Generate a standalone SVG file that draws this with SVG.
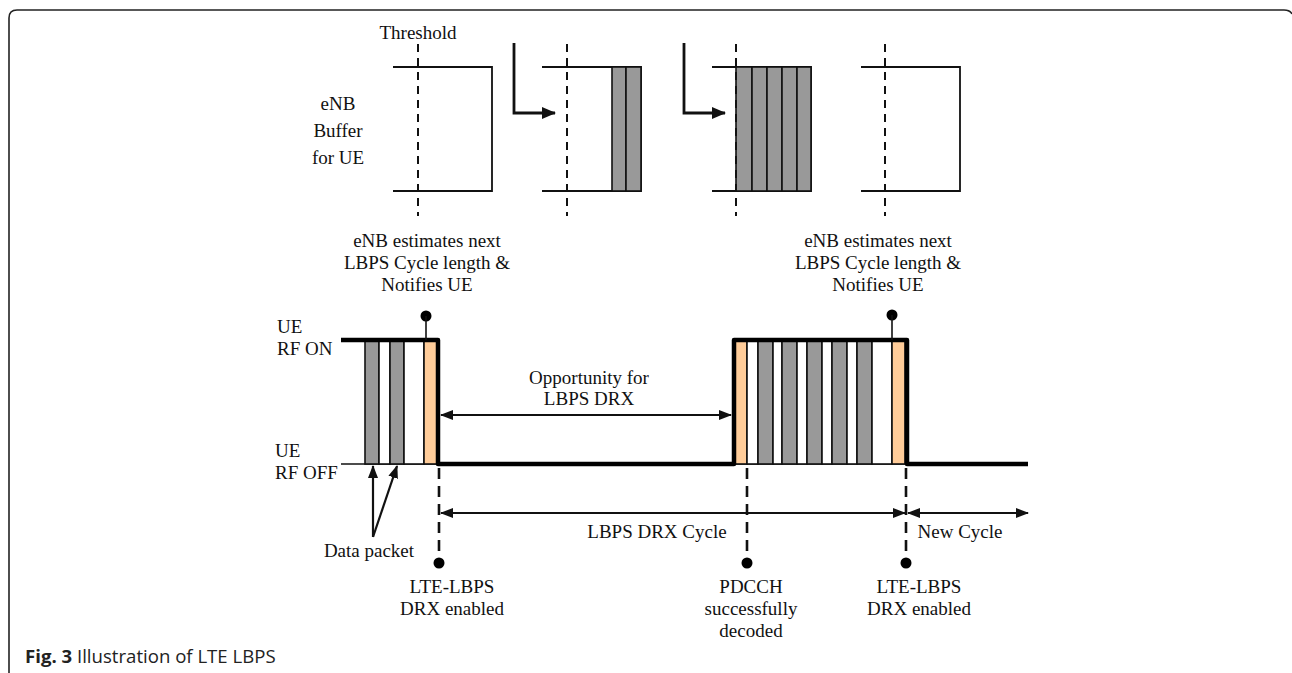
<svg xmlns="http://www.w3.org/2000/svg" width="1292" height="673" viewBox="0 0 1292 673">
<style>
.t{font-family:"Liberation Serif","Times New Roman",serif;font-size:19px;fill:#111}
.c{text-anchor:middle}
.buf{fill:none;stroke:#111;stroke-width:1.8}
.thr{stroke:#111;stroke-width:2;stroke-dasharray:8,6}
.gray{fill:#999999;stroke:#111;stroke-width:1.6}
.wht{fill:#ffffff;stroke:#111;stroke-width:1.6}
.org{fill:#ffcc99;stroke:#111;stroke-width:1.6}
.sig{fill:none;stroke:#000;stroke-width:4.5;stroke-linejoin:round}
.thin{stroke:#111;stroke-width:1.6}
.dash{stroke:#111;stroke-width:2.6;stroke-dasharray:11,7}
.arr{stroke:#111;stroke-width:2.2;fill:none}
.arr2{stroke:#111;stroke-width:2.8;fill:none}
</style>
<defs>
<marker id="ah" markerWidth="13" markerHeight="10" refX="12" refY="5" orient="auto-start-reverse" markerUnits="userSpaceOnUse">
<path d="M0,0 L13,5 L0,10 Z" fill="#111"/>
</marker>
<marker id="ahb" markerWidth="14" markerHeight="12" refX="13" refY="6" orient="auto" markerUnits="userSpaceOnUse">
<path d="M0,0 L14,6 L0,12 Z" fill="#111"/>
</marker>
</defs>

<g id="frame">
<path d="M9,673 V18 Q9,10 17,10 H1284 Q1290,10 1292,14" fill="none" stroke="#222" stroke-width="1.6"/>
</g>

<g id="buffer-label">
<text class="t" x="418" y="39" text-anchor="middle">Threshold</text>
<text class="t c" x="338" y="110">eNB</text>
<text class="t c" x="338" y="137">Buffer</text>
<text class="t c" x="338" y="164">for UE</text>
</g>

<g id="buffer1">
<path class="buf" d="M393,67 H492 V191 H393"/>
<line class="thr" x1="418" y1="44" x2="418" y2="216"/>
</g>

<g id="buffer2">
<path class="buf" d="M542,67 H641 V191 H542"/>
<rect class="gray" x="612" y="67" width="14" height="124"/>
<rect class="gray" x="626" y="67" width="15" height="124"/>
<line class="thr" x1="567" y1="44" x2="567" y2="216"/>
</g>

<g id="buffer3">
<path class="buf" d="M712,67 H811 V191 H712"/>
<rect class="gray" x="736" y="67" width="16" height="124"/>
<rect class="gray" x="752" y="67" width="15" height="124"/>
<rect class="gray" x="767" y="67" width="15" height="124"/>
<rect class="gray" x="782" y="67" width="15" height="124"/>
<rect class="gray" x="797" y="67" width="14" height="124"/>
<line class="thr" x1="736" y1="44" x2="736" y2="216"/>
</g>

<g id="buffer4">
<path class="buf" d="M861,67 H960 V191 H861"/>
<line class="thr" x1="885" y1="44" x2="885" y2="216"/>
</g>

<g id="timeline-labels">
<text class="t" x="277" y="333">UE</text>
<text class="t" x="277" y="355">RF ON</text>
<text class="t" x="275" y="457">UE</text>
<text class="t" x="275" y="479">RF OFF</text>
</g>

<g id="on-period-1">
<line class="thin" x1="341" y1="464" x2="438" y2="464"/>
<rect class="gray" x="365" y="340" width="14" height="124"/>
<rect class="wht" x="379" y="340" width="11" height="124"/>
<rect class="gray" x="390" y="340" width="14" height="124"/>
<rect class="wht" x="404" y="340" width="20" height="124"/>
<rect class="org" x="424" y="340" width="13" height="124"/>
</g>

<g id="on-period-2">
<line class="thin" x1="734" y1="464" x2="907" y2="464"/>
<rect class="org" x="735" y="340" width="12" height="124"/>
<rect class="wht" x="747" y="340" width="11" height="124"/>
<rect class="gray" x="758" y="340" width="15" height="124"/>
<rect class="wht" x="773" y="340" width="9" height="124"/>
<rect class="gray" x="782" y="340" width="15" height="124"/>
<rect class="wht" x="797" y="340" width="10" height="124"/>
<rect class="gray" x="807" y="340" width="15" height="124"/>
<rect class="wht" x="822" y="340" width="10" height="124"/>
<rect class="gray" x="832" y="340" width="15" height="124"/>
<rect class="wht" x="847" y="340" width="10" height="124"/>
<rect class="gray" x="857" y="340" width="15" height="124"/>
<rect class="wht" x="872" y="340" width="20" height="124"/>
<rect class="org" x="892" y="340" width="13" height="124"/>
</g>

<g id="signal">
<path class="sig" d="M341,340 H438 V464 H734 V340 H907 V464 H1028"/>
</g>

<g id="notify-1">
<text class="t c" x="427" y="247">eNB estimates next</text>
<text class="t c" x="427" y="269">LBPS Cycle length &amp;</text>
<text class="t c" x="427" y="291">Notifies UE</text>
<circle cx="426" cy="316" r="5.5" fill="#000"/>
<line class="thin" x1="426" y1="316" x2="426" y2="340"/>
</g>

<g id="notify-2">
<text class="t c" x="878" y="247">eNB estimates next</text>
<text class="t c" x="878" y="269">LBPS Cycle length &amp;</text>
<text class="t c" x="878" y="291">Notifies UE</text>
<circle cx="892" cy="315" r="5.5" fill="#000"/>
<line class="thin" x1="892" y1="315" x2="892" y2="340"/>
</g>

<g id="event-1">
<line class="dash" x1="439" y1="468" x2="439" y2="558"/>
<circle cx="439" cy="563" r="5.5" fill="#000"/>
<text class="t c" x="452" y="593">LTE-LBPS</text>
<text class="t c" x="452" y="615">DRX enabled</text>
</g>

<g id="event-2">
<line class="dash" x1="747" y1="468" x2="747" y2="558"/>
<circle cx="747" cy="563" r="5.5" fill="#000"/>
<text class="t c" x="751" y="593">PDCCH</text>
<text class="t c" x="751" y="615">successfully</text>
<text class="t c" x="751" y="637">decoded</text>
</g>

<g id="event-3">
<line class="dash" x1="906" y1="468" x2="906" y2="558"/>
<circle cx="906" cy="563" r="5.5" fill="#000"/>
<text class="t c" x="919" y="593">LTE-LBPS</text>
<text class="t c" x="919" y="615">DRX enabled</text>
</g>

<g id="data-packet">
<text class="t c" x="369" y="557">Data packet</text>
</g>

<g id="connectors">
<path class="arr2" d="M514,43 V113 H555" marker-end="url(#ahb)"/>
<path class="arr2" d="M684,43 V113 H725" marker-end="url(#ahb)"/>
<line class="arr" x1="441" y1="415" x2="731" y2="415" marker-start="url(#ah)" marker-end="url(#ah)"/>
<line class="arr" x1="441" y1="513" x2="905" y2="513" marker-start="url(#ah)" marker-end="url(#ah)"/>
<line class="arr" x1="908" y1="513" x2="1028" y2="513" marker-start="url(#ah)" marker-end="url(#ah)"/>
<line class="arr" x1="373" y1="537" x2="373" y2="466" marker-end="url(#ah)"/>
<line class="arr" x1="373" y1="537" x2="397" y2="466" marker-end="url(#ah)"/>
</g>

<g id="arrow-labels">
<text class="t c" x="589" y="384">Opportunity for</text>
<text class="t c" x="589" y="405">LBPS DRX</text>
<text class="t c" x="657" y="538">LBPS DRX Cycle</text>
<text class="t c" x="960" y="538">New Cycle</text>
</g>

<g id="caption">
<text x="25" y="663" style="font-family:'Open Sans','Noto Sans',sans-serif;font-size:18.6px;fill:#222"><tspan font-weight="bold">Fig. 3</tspan> Illustration of LTE LBPS</text>
</g>
</svg>
